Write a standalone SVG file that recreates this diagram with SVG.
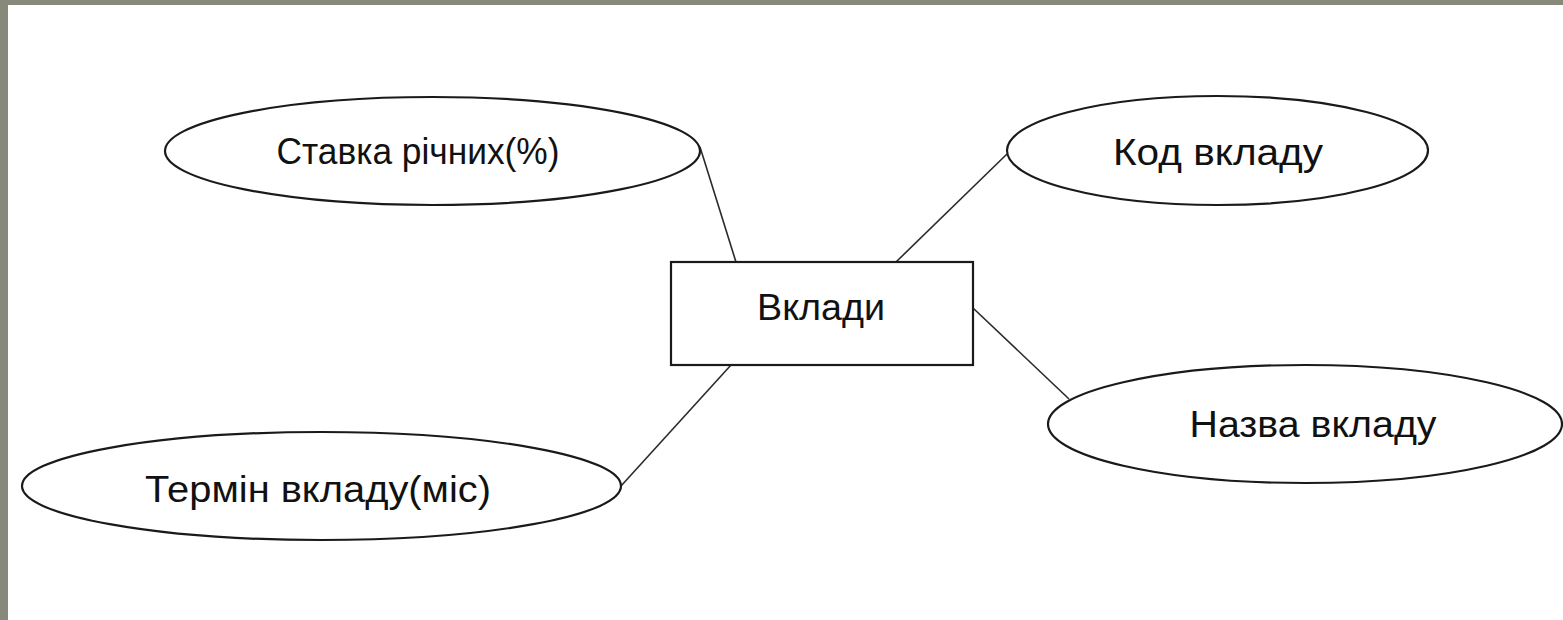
<svg xmlns="http://www.w3.org/2000/svg" width="1563" height="620" viewBox="0 0 1563 620">
<style>
.shape{fill:#ffffff;stroke:#1a1a1a;stroke-width:2.2}
.conn{stroke:#2a2a2a;stroke-width:1.6;fill:none}
.lbl{font-family:"Liberation Sans","DejaVu Sans",sans-serif;font-size:36px;fill:#111;text-anchor:middle}
</style>
<rect x="0" y="0" width="1563" height="620" fill="#ffffff"/>
<rect x="0" y="0" width="1563" height="5" fill="#878a7b"/>
<rect x="0" y="0" width="8" height="620" fill="#878a7b"/>
<g id="connectors">
<line class="conn" x1="700" y1="147" x2="736" y2="262"/>
<line class="conn" x1="1007" y1="154" x2="896" y2="262"/>
<line class="conn" x1="973" y1="308" x2="1069" y2="399"/>
<line class="conn" x1="731" y1="365" x2="621" y2="486"/>
</g>
<g id="node-stavka">
<ellipse class="shape" cx="432.5" cy="151" rx="267.5" ry="54"/>
<text class="lbl" x="418" y="164" textLength="283" lengthAdjust="spacingAndGlyphs">Ставка річних(%)</text>
</g>
<g id="node-kod">
<ellipse class="shape" cx="1217.5" cy="150.5" rx="210.5" ry="54.5"/>
<text class="lbl" x="1218" y="165" textLength="210" lengthAdjust="spacingAndGlyphs">Код вкладу</text>
</g>
<g id="node-vklady">
<rect class="shape" x="671" y="262" width="302" height="103"/>
<text class="lbl" x="821" y="320" textLength="128" lengthAdjust="spacingAndGlyphs">Вклади</text>
</g>
<g id="node-nazva">
<ellipse class="shape" cx="1305" cy="424" rx="257" ry="59"/>
<text class="lbl" x="1313" y="437" textLength="247" lengthAdjust="spacingAndGlyphs">Назва вкладу</text>
</g>
<g id="node-termin">
<ellipse class="shape" cx="321.5" cy="486" rx="299.5" ry="54"/>
<text class="lbl" x="318" y="502" textLength="346" lengthAdjust="spacingAndGlyphs">Термін вкладу(міс)</text>
</g>
</svg>
